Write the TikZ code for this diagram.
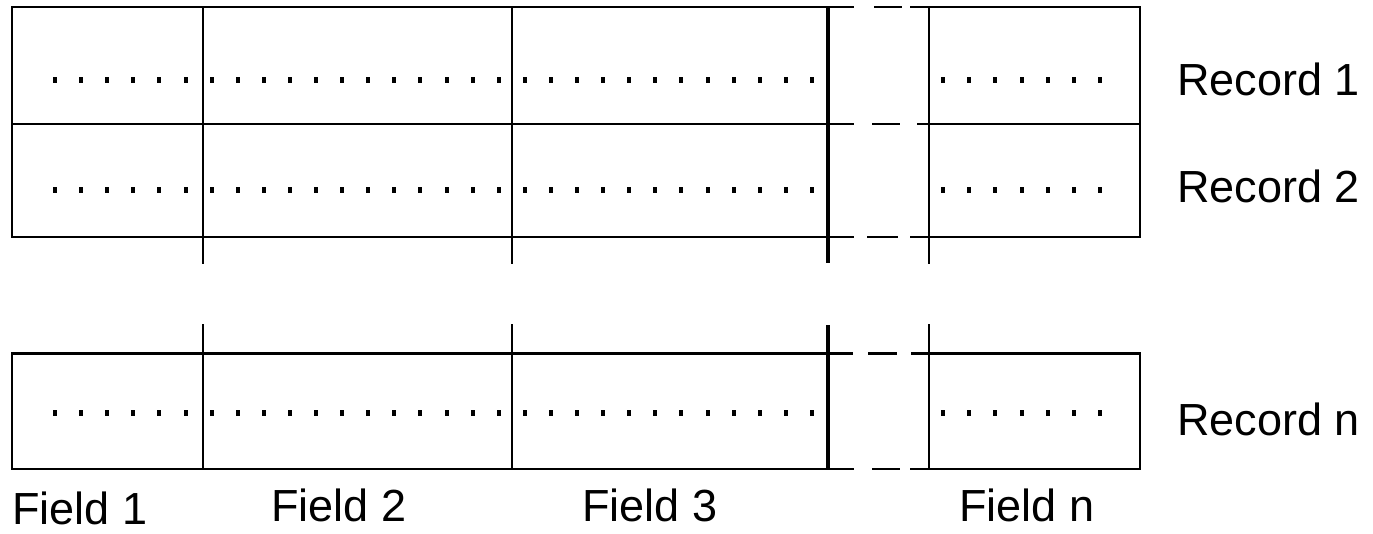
\documentclass[tikz,border=0pt]{standalone}
\usepackage{fontspec}
\setmainfont{Liberation Sans}
\begin{document}
\begin{tikzpicture}[x=1pt,y=-1pt,
  thinline/.style={line width=1.8pt,line cap=rect},
  thickline/.style={line width=4.2pt},
  midline/.style={line width=3pt},
  dotmark/.style={fill=black},
  lbl/.style={anchor=base west,inner sep=0pt,font=\fontsize{45}{54}\selectfont}]
\useasboundingbox (0,0) rectangle (1373,533);
% ---- top block (records 1 and 2)
\foreach \y/\da/\db/\r in {7/875/901/911, 124/873/899/918, 237/868/897/911}{
  \draw[thinline] (12,\y) -- (853,\y);
  \draw[thinline] (\da,\y) -- (\db,\y);
  \draw[thinline] (\r,\y) -- (1140,\y);
}
\draw[thinline] (12,7) -- (12,237);
\draw[thinline] (1140,7) -- (1140,237);
\draw[thinline] (203,7) -- (203,263);
\draw[thinline] (512,7) -- (512,263);
\draw[thinline] (929,7) -- (929,263);
\draw[thickline] (828,7) -- (828,263);
% ---- bottom block (record n)
\draw[midline] (12,353) -- (853,353);
\draw[midline] (868,353) -- (897,353);
\draw[midline] (911,353) -- (1140,353);
\draw[thinline] (12,469) -- (853,469);
\draw[thinline] (873,469) -- (899,469);
\draw[thinline] (911,469) -- (1140,469);
\draw[thinline] (12,353) -- (12,469);
\draw[thinline] (1140,353) -- (1140,469);
\draw[thinline] (203,325) -- (203,469);
\draw[thinline] (512,325) -- (512,469);
\draw[thinline] (929,325) -- (929,469);
\draw[thickline] (828,325) -- (828,469);
% ---- dots
\foreach \y in {80,190,413}{
  \foreach \k in {0,...,29}{
    \fill[dotmark] ({55+26.1*\k-2},\y-3) rectangle ++(4,6);
  }
  \foreach \k in {0,...,6}{
    \fill[dotmark] ({943+26.2*\k-2},\y-3) rectangle ++(4,6);
  }
}
% ---- labels
\node[lbl] (r1) at (1177,95) {Record 1};
\node[lbl] (r2) at (1177,202) {Record 2};
\node[lbl] (rn) at (1177,435) {Record n};
\node[lbl] (f1) at (12,524) {Field 1};
\node[lbl] (f2) at (271,521) {Field 2};
\node[lbl] (f3) at (582,521) {Field 3};
\node[lbl] (fn) at (959,521) {Field n};
\end{tikzpicture}
\end{document}
